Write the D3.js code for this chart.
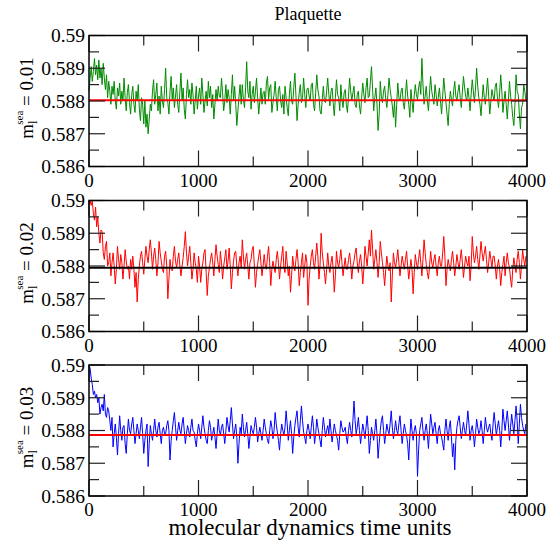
<!DOCTYPE html>
<html>
<head>
<meta charset="utf-8">
<script src="https://cdn.jsdelivr.net/npm/d3@7"></script>
<style>
  body { margin: 0; background: #fff; }
  text { font-family: "Liberation Serif", serif; }
</style>
</head>
<body>
<svg id="chart" width="549" height="544"></svg>
<script>
// sample times (every 10 md units)
var times = d3.range(0, 4000, 10);

// plaquette, m_l^sea = 0.01
var plaq001 = [
  0.58830, 0.58870, 0.58905, 0.58860, 0.58890, 0.58930, 0.58880, 0.58910, 0.58865, 0.58925, 0.58870, 0.58900, 0.58850, 0.58915, 0.58870, 0.58835, 0.58880, 0.58810, 0.58860, 0.58830,
  0.58790, 0.58845, 0.58820, 0.58860, 0.58800, 0.58775, 0.58840, 0.58815, 0.58855, 0.58790, 0.58830, 0.58800, 0.58870, 0.58810, 0.58770, 0.58825, 0.58850, 0.58795, 0.58760, 0.58820,
  0.58845, 0.58790, 0.58765, 0.58830, 0.58800, 0.58850, 0.58775, 0.58740, 0.58810, 0.58790, 0.58730, 0.58800, 0.58720, 0.58760, 0.58700, 0.58745, 0.58790, 0.58770, 0.58830, 0.58865,
  0.58790, 0.58820, 0.58855, 0.58770, 0.58815, 0.58760, 0.58845, 0.58800, 0.58780, 0.58835, 0.58900, 0.58810, 0.58795, 0.58760, 0.58830, 0.58875, 0.58805, 0.58840, 0.58780, 0.58815,
  0.58850, 0.58790, 0.58765, 0.58830, 0.58885, 0.58800, 0.58840, 0.58775, 0.58745, 0.58820, 0.58865, 0.58810, 0.58835, 0.58790, 0.58855, 0.58820, 0.58760, 0.58800, 0.58845, 0.58775,
  0.58815, 0.58840, 0.58790, 0.58870, 0.58820, 0.58765, 0.58800, 0.58830, 0.58785, 0.58860, 0.58810, 0.58845, 0.58780, 0.58820, 0.58745, 0.58790, 0.58835, 0.58800, 0.58845, 0.58815,
  0.58810, 0.58870, 0.58825, 0.58770, 0.58800, 0.58850, 0.58795, 0.58835, 0.58810, 0.58760, 0.58820, 0.58880, 0.58800, 0.58845, 0.58790, 0.58725, 0.58770, 0.58815, 0.58850, 0.58790,
  0.58850, 0.58805, 0.58780, 0.58840, 0.58920, 0.58830, 0.58810, 0.58860, 0.58775, 0.58820, 0.58845, 0.58795, 0.58830, 0.58870, 0.58810, 0.58760, 0.58800, 0.58840, 0.58790, 0.58825,
  0.58830, 0.58790, 0.58855, 0.58875, 0.58805, 0.58840, 0.58850, 0.58765, 0.58795, 0.58820, 0.58860, 0.58810, 0.58770, 0.58835, 0.58845, 0.58800, 0.58780, 0.58820, 0.58760, 0.58845,
  0.58810, 0.58780, 0.58755, 0.58820, 0.58860, 0.58800, 0.58790, 0.58840, 0.58885, 0.58815, 0.58740, 0.58790, 0.58825, 0.58850, 0.58795, 0.58810, 0.58870, 0.58820, 0.58780, 0.58835,
  0.58840, 0.58815, 0.58800, 0.58850, 0.58855, 0.58790, 0.58770, 0.58825, 0.58880, 0.58835, 0.58815, 0.58770, 0.58760, 0.58805, 0.58845, 0.58800, 0.58795, 0.58830, 0.58870, 0.58820,
  0.58785, 0.58830, 0.58840, 0.58795, 0.58755, 0.58810, 0.58865, 0.58820, 0.58810, 0.58770, 0.58850, 0.58805, 0.58780, 0.58825, 0.58835, 0.58790, 0.58765, 0.58815, 0.58870, 0.58830,
  0.58800, 0.58825, 0.58845, 0.58790, 0.58780, 0.58820, 0.58830, 0.58785, 0.58760, 0.58810, 0.58855, 0.58820, 0.58795, 0.58840, 0.58870, 0.58810, 0.58815, 0.58860, 0.58905, 0.58835,
  0.58770, 0.58810, 0.58840, 0.58790, 0.58710, 0.58760, 0.58860, 0.58815, 0.58795, 0.58830, 0.58845, 0.58805, 0.58780, 0.58820, 0.58870, 0.58835, 0.58810, 0.58785, 0.58750, 0.58800,
  0.58720, 0.58790, 0.58855, 0.58810, 0.58800, 0.58830, 0.58840, 0.58795, 0.58775, 0.58820, 0.58865, 0.58815, 0.58790, 0.58750, 0.58835, 0.58800, 0.58765, 0.58815, 0.58850, 0.58820,
  0.58805, 0.58840, 0.58860, 0.58820, 0.58930, 0.58850, 0.58790, 0.58815, 0.58845, 0.58800, 0.58770, 0.58825, 0.58875, 0.58830, 0.58810, 0.58790, 0.58850, 0.58820, 0.58785, 0.58810,
  0.58840, 0.58800, 0.58760, 0.58815, 0.58870, 0.58830, 0.58795, 0.58760, 0.58725, 0.58790, 0.58830, 0.58805, 0.58785, 0.58830, 0.58860, 0.58815, 0.58800, 0.58830, 0.58850, 0.58810,
  0.58780, 0.58830, 0.58875, 0.58840, 0.58815, 0.58800, 0.58840, 0.58810, 0.58770, 0.58820, 0.58865, 0.58830, 0.58795, 0.58840, 0.58900, 0.58845, 0.58810, 0.58790, 0.58755, 0.58805,
  0.58850, 0.58810, 0.58790, 0.58830, 0.58870, 0.58815, 0.58760, 0.58800, 0.58835, 0.58815, 0.58800, 0.58845, 0.58855, 0.58810, 0.58780, 0.58825, 0.58880, 0.58830, 0.58765, 0.58800,
  0.58830, 0.58790, 0.58745, 0.58800, 0.58860, 0.58815, 0.58790, 0.58750, 0.58725, 0.58790, 0.58880, 0.58830, 0.58820, 0.58760, 0.58715, 0.58780, 0.58790, 0.58850, 0.58830, 0.58800
];

// plaquette, m_l^sea = 0.02
var plaq002 = [
  0.58990, 0.59000, 0.58985, 0.59000, 0.58960, 0.58940, 0.58980, 0.58920, 0.58950, 0.58900, 0.58870, 0.58910, 0.58905, 0.58840, 0.58820, 0.58860, 0.58875, 0.58800, 0.58810, 0.58840,
  0.58770, 0.58810, 0.58840, 0.58800, 0.58745, 0.58790, 0.58860, 0.58820, 0.58790, 0.58835, 0.58810, 0.58760, 0.58800, 0.58850, 0.58815, 0.58790, 0.58800, 0.58760, 0.58820, 0.58790,
  0.58830, 0.58790, 0.58735, 0.58780, 0.58690, 0.58760, 0.58800, 0.58830, 0.58845, 0.58810, 0.58775, 0.58820, 0.58860, 0.58830, 0.58810, 0.58850, 0.58880, 0.58840, 0.58790, 0.58830,
  0.58855, 0.58820, 0.58770, 0.58810, 0.58875, 0.58840, 0.58815, 0.58790, 0.58780, 0.58830, 0.58845, 0.58800, 0.58700, 0.58760, 0.58820, 0.58790, 0.58785, 0.58830, 0.58860, 0.58815,
  0.58795, 0.58820, 0.58840, 0.58800, 0.58770, 0.58800, 0.58825, 0.58860, 0.58905, 0.58840, 0.58800, 0.58830, 0.58860, 0.58810, 0.58760, 0.58790, 0.58840, 0.58810, 0.58790, 0.58750,
  0.58830, 0.58800, 0.58750, 0.58790, 0.58810, 0.58840, 0.58850, 0.58780, 0.58710, 0.58770, 0.58795, 0.58820, 0.58840, 0.58810, 0.58770, 0.58820, 0.58865, 0.58830, 0.58805, 0.58780,
  0.58845, 0.58810, 0.58760, 0.58800, 0.58825, 0.58850, 0.58790, 0.58815, 0.58855, 0.58800, 0.58730, 0.58780, 0.58815, 0.58840, 0.58845, 0.58800, 0.58770, 0.58810, 0.58830, 0.58795,
  0.58880, 0.58830, 0.58790, 0.58820, 0.58840, 0.58800, 0.58760, 0.58810, 0.58820, 0.58850, 0.58860, 0.58800, 0.58735, 0.58780, 0.58805, 0.58830, 0.58850, 0.58810, 0.58770, 0.58800,
  0.58835, 0.58800, 0.58790, 0.58830, 0.58860, 0.58810, 0.58740, 0.58790, 0.58815, 0.58795, 0.58780, 0.58820, 0.58845, 0.58810, 0.58760, 0.58800, 0.58830, 0.58860, 0.58795, 0.58780,
  0.58845, 0.58810, 0.58770, 0.58800, 0.58720, 0.58770, 0.58830, 0.58800, 0.58785, 0.58820, 0.58850, 0.58810, 0.58740, 0.58780, 0.58810, 0.58840, 0.58765, 0.58800, 0.58835, 0.58810,
  0.58680, 0.58760, 0.58800, 0.58830, 0.58850, 0.58810, 0.58790, 0.58830, 0.58870, 0.58830, 0.58760, 0.58800, 0.58900, 0.58840, 0.58810, 0.58780, 0.58745, 0.58790, 0.58840, 0.58800,
  0.58780, 0.58810, 0.58830, 0.58790, 0.58720, 0.58770, 0.58845, 0.58810, 0.58795, 0.58820, 0.58850, 0.58810, 0.58770, 0.58800, 0.58825, 0.58790, 0.58790, 0.58820, 0.58840, 0.58805,
  0.58760, 0.58800, 0.58815, 0.58840, 0.58855, 0.58810, 0.58780, 0.58815, 0.58835, 0.58800, 0.58745, 0.58790, 0.58860, 0.58830, 0.58800, 0.58840, 0.58880, 0.58830, 0.58910, 0.58850,
  0.58790, 0.58820, 0.58850, 0.58810, 0.58765, 0.58810, 0.58875, 0.58840, 0.58810, 0.58780, 0.58740, 0.58790, 0.58830, 0.58800, 0.58785, 0.58810, 0.58690, 0.58770, 0.58840, 0.58810,
  0.58795, 0.58820, 0.58850, 0.58810, 0.58770, 0.58800, 0.58830, 0.58810, 0.58790, 0.58820, 0.58845, 0.58800, 0.58760, 0.58790, 0.58820, 0.58790, 0.58715, 0.58780, 0.58835, 0.58810,
  0.58790, 0.58820, 0.58850, 0.58810, 0.58770, 0.58820, 0.58880, 0.58840, 0.58805, 0.58780, 0.58760, 0.58800, 0.58845, 0.58810, 0.58795, 0.58820, 0.58835, 0.58800, 0.58770, 0.58810,
  0.58830, 0.58800, 0.58800, 0.58840, 0.58890, 0.58830, 0.58740, 0.58790, 0.58820, 0.58800, 0.58785, 0.58820, 0.58845, 0.58810, 0.58770, 0.58800, 0.58835, 0.58810, 0.58790, 0.58820,
  0.58850, 0.58810, 0.58765, 0.58800, 0.58830, 0.58810, 0.58800, 0.58830, 0.58755, 0.58800, 0.58890, 0.58840, 0.58810, 0.58830, 0.58860, 0.58820, 0.58790, 0.58830, 0.58875, 0.58840,
  0.58815, 0.58840, 0.58860, 0.58820, 0.58780, 0.58810, 0.58845, 0.58820, 0.58795, 0.58830, 0.58830, 0.58800, 0.58760, 0.58800, 0.58820, 0.58790, 0.58740, 0.58780, 0.58805, 0.58830,
  0.58770, 0.58810, 0.58840, 0.58810, 0.58795, 0.58760, 0.58735, 0.58790, 0.58825, 0.58800, 0.58780, 0.58820, 0.58845, 0.58810, 0.58760, 0.58800, 0.58850, 0.58820, 0.58800, 0.58830
];

// plaquette, m_l^sea = 0.03
var plaq003 = [
  0.59000, 0.58990, 0.58960, 0.58940, 0.58910, 0.58920, 0.58900, 0.58910, 0.58885, 0.58900, 0.58850, 0.58870, 0.58880, 0.58860, 0.58910, 0.58850, 0.58840, 0.58870, 0.58860, 0.58830,
  0.58800, 0.58840, 0.58750, 0.58790, 0.58820, 0.58780, 0.58725, 0.58790, 0.58845, 0.58800, 0.58770, 0.58810, 0.58815, 0.58760, 0.58730, 0.58790, 0.58835, 0.58800, 0.58790, 0.58820,
  0.58840, 0.58800, 0.58760, 0.58790, 0.58820, 0.58800, 0.58775, 0.58810, 0.58840, 0.58790, 0.58730, 0.58770, 0.58800, 0.58820, 0.58690, 0.58760, 0.58815, 0.58790, 0.58770, 0.58800,
  0.58835, 0.58800, 0.58780, 0.58810, 0.58825, 0.58790, 0.58760, 0.58800, 0.58810, 0.58790, 0.58790, 0.58815, 0.58830, 0.58800, 0.58710, 0.58770, 0.58800, 0.58830, 0.58855, 0.58810,
  0.58770, 0.58800, 0.58825, 0.58800, 0.58790, 0.58820, 0.58840, 0.58800, 0.58760, 0.58790, 0.58815, 0.58800, 0.58780, 0.58810, 0.58835, 0.58800, 0.58795, 0.58770, 0.58750, 0.58790,
  0.58820, 0.58800, 0.58775, 0.58810, 0.58845, 0.58810, 0.58790, 0.58770, 0.58760, 0.58800, 0.58830, 0.58810, 0.58770, 0.58790, 0.58810, 0.58780, 0.58745, 0.58790, 0.58835, 0.58800,
  0.58785, 0.58810, 0.58820, 0.58790, 0.58760, 0.58800, 0.58840, 0.58815, 0.58795, 0.58830, 0.58870, 0.58820, 0.58775, 0.58800, 0.58820, 0.58780, 0.58700, 0.58760, 0.58810, 0.58790,
  0.58850, 0.58810, 0.58780, 0.58800, 0.58825, 0.58790, 0.58745, 0.58780, 0.58815, 0.58800, 0.58790, 0.58810, 0.58840, 0.58810, 0.58765, 0.58790, 0.58810, 0.58790, 0.58770, 0.58800,
  0.58835, 0.58810, 0.58790, 0.58770, 0.58760, 0.58800, 0.58830, 0.58810, 0.58775, 0.58800, 0.58855, 0.58820, 0.58795, 0.58770, 0.58740, 0.58790, 0.58820, 0.58800, 0.58785, 0.58810,
  0.58860, 0.58820, 0.58770, 0.58800, 0.58830, 0.58790, 0.58730, 0.58780, 0.58815, 0.58840, 0.58860, 0.58810, 0.58780, 0.58830, 0.58875, 0.58830, 0.58795, 0.58780, 0.58760, 0.58800,
  0.58820, 0.58800, 0.58775, 0.58810, 0.58845, 0.58810, 0.58760, 0.58790, 0.58835, 0.58810, 0.58790, 0.58770, 0.58750, 0.58800, 0.58840, 0.58810, 0.58780, 0.58800, 0.58815, 0.58790,
  0.58835, 0.58800, 0.58765, 0.58790, 0.58820, 0.58800, 0.58785, 0.58770, 0.58740, 0.58790, 0.58830, 0.58810, 0.58795, 0.58800, 0.58810, 0.58780, 0.58760, 0.58800, 0.58825, 0.58800,
  0.58780, 0.58830, 0.58890, 0.58830, 0.58790, 0.58810, 0.58840, 0.58800, 0.58760, 0.58790, 0.58820, 0.58800, 0.58775, 0.58810, 0.58845, 0.58800, 0.58730, 0.58770, 0.58810, 0.58790,
  0.58770, 0.58800, 0.58835, 0.58790, 0.58715, 0.58760, 0.58800, 0.58830, 0.58845, 0.58800, 0.58760, 0.58790, 0.58820, 0.58800, 0.58790, 0.58820, 0.58860, 0.58810, 0.58775, 0.58800,
  0.58830, 0.58800, 0.58790, 0.58820, 0.58845, 0.58800, 0.58760, 0.58790, 0.58820, 0.58800, 0.58785, 0.58760, 0.58710, 0.58780, 0.58835, 0.58800, 0.58770, 0.58800, 0.58815, 0.58790,
  0.58660, 0.58740, 0.58800, 0.58820, 0.58840, 0.58800, 0.58770, 0.58800, 0.58820, 0.58790, 0.58745, 0.58800, 0.58850, 0.58820, 0.58790, 0.58810, 0.58825, 0.58790, 0.58760, 0.58800,
  0.58815, 0.58790, 0.58780, 0.58760, 0.58740, 0.58800, 0.58835, 0.58800, 0.58770, 0.58810, 0.58830, 0.58780, 0.58720, 0.58760, 0.58680, 0.58770, 0.58810, 0.58830, 0.58845, 0.58810,
  0.58775, 0.58800, 0.58825, 0.58800, 0.58785, 0.58820, 0.58860, 0.58820, 0.58770, 0.58800, 0.58815, 0.58790, 0.58750, 0.58790, 0.58835, 0.58810, 0.58790, 0.58800, 0.58830, 0.58800,
  0.58760, 0.58800, 0.58840, 0.58810, 0.58795, 0.58810, 0.58820, 0.58790, 0.58770, 0.58820, 0.58855, 0.58820, 0.58785, 0.58810, 0.58830, 0.58800, 0.58750, 0.58800, 0.58865, 0.58830,
  0.58800, 0.58830, 0.58860, 0.58820, 0.58770, 0.58810, 0.58850, 0.58820, 0.58790, 0.58830, 0.58875, 0.58830, 0.58760, 0.58820, 0.58880, 0.58840, 0.58815, 0.58800, 0.58790, 0.58820
];

var seaMasses = ["0.01", "0.02", "0.03"];
var series = [plaq001, plaq002, plaq003];
var lineColors = ["#008b00", "#ff0000", "#0000ff"];
var averages = [0.58802, 0.58795, 0.58786];
var avgColors = ["#ff0000", "#000000", "#ff0000"];

var yMajor = [0.586, 0.587, 0.588, 0.589, 0.59];
var yMinor = [0.5865, 0.5875, 0.5885, 0.5895];
var xMajor = [0, 1000, 2000, 3000, 4000];
var xMinor = [500, 1500, 2500, 3500];

var svg = d3.select("#chart");
var font = "Liberation Serif";

var left = 89, right = 527;
var panelTops = [35.5, 200.5, 365];
var panelH = 131;
var majorLen = 16, minorLen = 10;

var x = d3.scaleLinear().domain([0, 4000]).range([left, right]);

svg.append("text")
  .attr("x", 308).attr("y", 20)
  .attr("text-anchor", "middle")
  .attr("font-family", font).attr("font-size", 18)
  .text("Plaquette");

panelTops.forEach(function(top, i) {
  var bottom = top + panelH;
  var y = d3.scaleLinear().domain([0.586, 0.59]).range([bottom, top]);
  var g = svg.append("g");

  // data trace
  var line = d3.line()
    .x(function(d, j) { return x(times[j]); })
    .y(function(d) { return y(d); });

  g.append("path")
    .datum(series[i])
    .attr("d", line)
    .attr("fill", "none")
    .attr("stroke", lineColors[i])
    .attr("stroke-width", 1);

  // average line
  g.append("line")
    .attr("x1", left).attr("x2", right)
    .attr("y1", y(averages[i])).attr("y2", y(averages[i]))
    .attr("stroke", avgColors[i])
    .attr("stroke-width", 2);

  // ticks, pointing inward on all four sides
  var tk = g.append("g").attr("stroke", "#222").attr("stroke-width", 1.2);
  function yTick(v, len) {
    tk.append("line").attr("x1", left).attr("x2", left + len).attr("y1", y(v)).attr("y2", y(v));
    tk.append("line").attr("x1", right).attr("x2", right - len).attr("y1", y(v)).attr("y2", y(v));
  }
  function xTick(v, len) {
    tk.append("line").attr("x1", x(v)).attr("x2", x(v)).attr("y1", bottom).attr("y2", bottom - len);
    tk.append("line").attr("x1", x(v)).attr("x2", x(v)).attr("y1", top).attr("y2", top + len);
  }
  yMajor.forEach(function(v) { yTick(v, majorLen); });
  yMinor.forEach(function(v) { yTick(v, minorLen); });
  xMajor.forEach(function(v) { xTick(v, majorLen); });
  xMinor.forEach(function(v) { xTick(v, minorLen); });

  // frame
  g.append("rect")
    .attr("x", left).attr("y", top)
    .attr("width", right - left).attr("height", panelH)
    .attr("fill", "none").attr("stroke", "#000").attr("stroke-width", 1.5);

  // tick labels
  g.selectAll(".ylab").data(yMajor).enter().append("text")
    .attr("x", left - 4).attr("y", function(d) { return y(d); })
    .attr("dy", "0.35em")
    .attr("text-anchor", "end")
    .attr("font-family", font).attr("font-size", 19.5)
    .text(function(d) { return d3.format("")(d); });

  g.selectAll(".xlab").data(xMajor).enter().append("text")
    .attr("x", function(d) { return x(d); }).attr("y", bottom + 20)
    .attr("text-anchor", "middle")
    .attr("font-family", font).attr("font-size", 19)
    .text(function(d) { return d; });

  // y axis title: m_l^sea = ...
  var cy = top + panelH / 2 - 3;
  var t = g.append("text")
    .attr("transform", "translate(33," + cy + ") rotate(-90)")
    .attr("text-anchor", "middle")
    .attr("font-family", font).attr("font-size", 19);
  t.append("tspan").text("m");
  t.append("tspan").attr("dy", 4).attr("font-size", 12).text("l");
  t.append("tspan").attr("dx", -4).attr("dy", -14).attr("font-size", 11).text("sea");
  t.append("tspan").attr("dy", 10).text(" = " + seaMasses[i]);
});

svg.append("text")
  .attr("x", 310).attr("y", 535)
  .attr("text-anchor", "middle")
  .attr("font-family", font).attr("font-size", 23)
  .text("molecular dynamics time units");
</script>
</body>
</html>
